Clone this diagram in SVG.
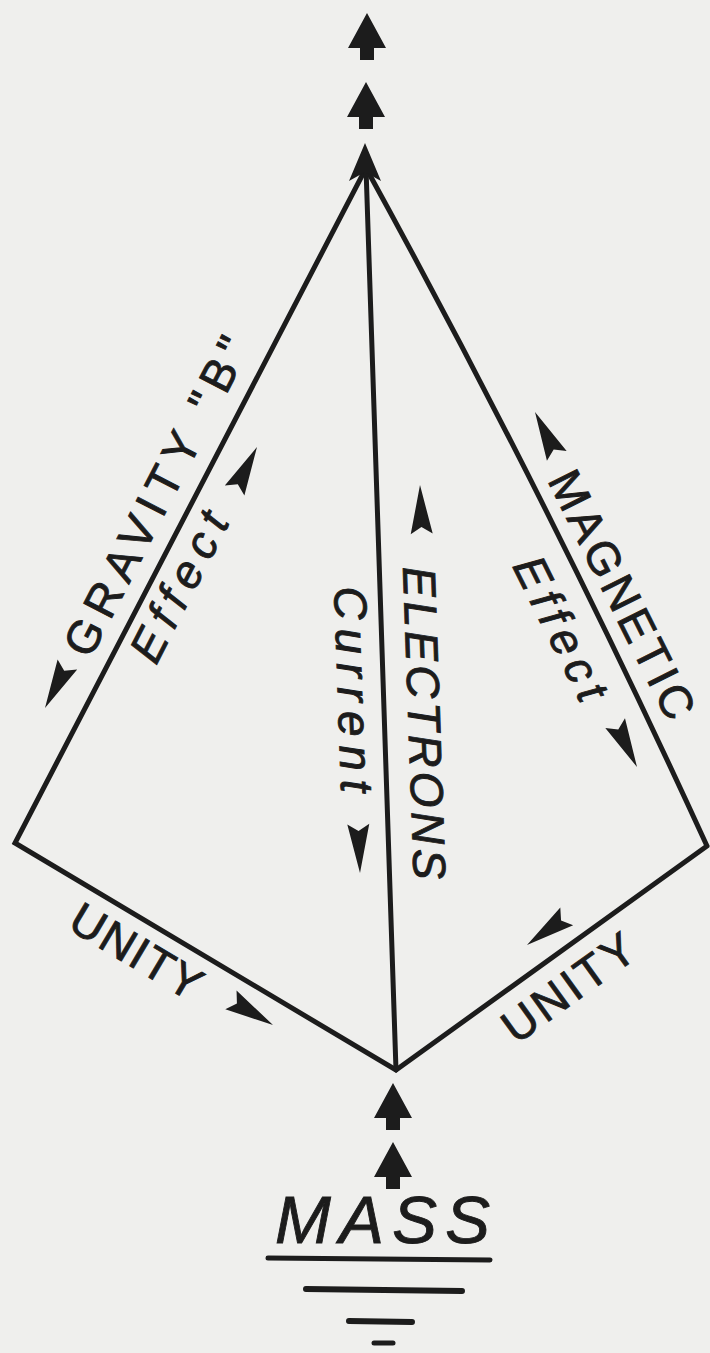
<svg xmlns="http://www.w3.org/2000/svg" xmlns:xlink="http://www.w3.org/1999/xlink" width="710" height="1353" viewBox="0 0 710 1353">
<style>
.ln{stroke:#1c1c1c;stroke-width:5;fill:none;stroke-linecap:round;stroke-linejoin:miter}
.lbl{font-family:"Liberation Sans",Arial,sans-serif;font-size:46px;fill:#1c1c1c;stroke:#1c1c1c;stroke-width:0.9}
.it{font-style:italic}
.fill{fill:#1c1c1c}
</style>
<defs>
<path id="dart" d="M0,0 L-49,-11 L-42,0 L-49,11 Z"/>
<path id="blk" d="M0,0 L19,35 L7,35 L7,47 L-7,47 L-7,35 L-19,35 Z"/>
</defs>
<rect width="710" height="1353" fill="#efefed"/>
<g id="connectors">
<path class="ln" d="M707,846 L396,1070 L15,843 L366,168 Q549,501 707,846"/>
<path class="ln" d="M366,168 L396,1070"/>
<path class="fill" d="M365,143 L381,181 L365,172 L349,181 Z"/>
</g>
<g id="top-arrows" class="fill">
<use xlink:href="#blk" transform="translate(367,13)"/>
<use xlink:href="#blk" transform="translate(366,82)"/>
</g>
<g id="gravity">
<text class="lbl" transform="translate(90,660) rotate(-62.8)" textLength="352" lengthAdjust="spacing">GRAVITY "B"</text>
<text class="lbl it" transform="translate(156,666) rotate(-62.8)" textLength="162" lengthAdjust="spacing">Effect</text>
<use class="fill" xlink:href="#dart" transform="translate(45,708) rotate(117.2)"/>
<use class="fill" xlink:href="#dart" transform="translate(257,447) rotate(-62.8)"/>
</g>
<g id="electrons">
<text class="lbl it" transform="translate(403,567) rotate(88)" textLength="313" lengthAdjust="spacing">ELECTRONS</text>
<text class="lbl it" transform="translate(334,587) rotate(88)" textLength="206" lengthAdjust="spacing">Current</text>
<use class="fill" xlink:href="#dart" transform="translate(420,485) rotate(-92)"/>
<use class="fill" xlink:href="#dart" transform="translate(360,873) rotate(88)"/>
</g>
<g id="magnetic">
<text class="lbl" transform="translate(547,480) rotate(63.46)" textLength="272" lengthAdjust="spacing">MAGNETIC</text>
<text class="lbl it" transform="translate(512,566) rotate(63.46)" textLength="155" lengthAdjust="spacing">Effect</text>
<use class="fill" xlink:href="#dart" transform="translate(535,412) rotate(-116.4)"/>
<use class="fill" xlink:href="#dart" transform="translate(637,767) rotate(63.5)"/>
</g>
<g id="unity-left">
<text class="lbl" transform="translate(66,928) rotate(30.8)" textLength="145" lengthAdjust="spacing">UNITY</text>
<use class="fill" xlink:href="#dart" transform="translate(273,1025) rotate(30.8)"/>
</g>
<g id="unity-right">
<text class="lbl" transform="translate(516,1045) rotate(-35.8)" textLength="152" lengthAdjust="spacing">UNITY</text>
<use class="fill" xlink:href="#dart" transform="translate(527,945) rotate(144.2)"/>
</g>
<g id="mass">
<use class="fill" xlink:href="#blk" transform="translate(393,1083)"/>
<use class="fill" xlink:href="#blk" transform="translate(393,1142)"/>
<text class="lbl it" x="275" y="1243" style="font-size:67px" textLength="215" lengthAdjust="spacing">MASS</text>
<line class="ln" x1="268" y1="1258" x2="490" y2="1260"/>
<line class="ln" x1="306" y1="1289" x2="462" y2="1291" style="stroke-width:6"/>
<line class="ln" x1="349" y1="1321" x2="412" y2="1322" style="stroke-width:6"/>
<line class="ln" x1="374" y1="1343" x2="393" y2="1343" style="stroke-width:5"/>
</g>
</svg>
